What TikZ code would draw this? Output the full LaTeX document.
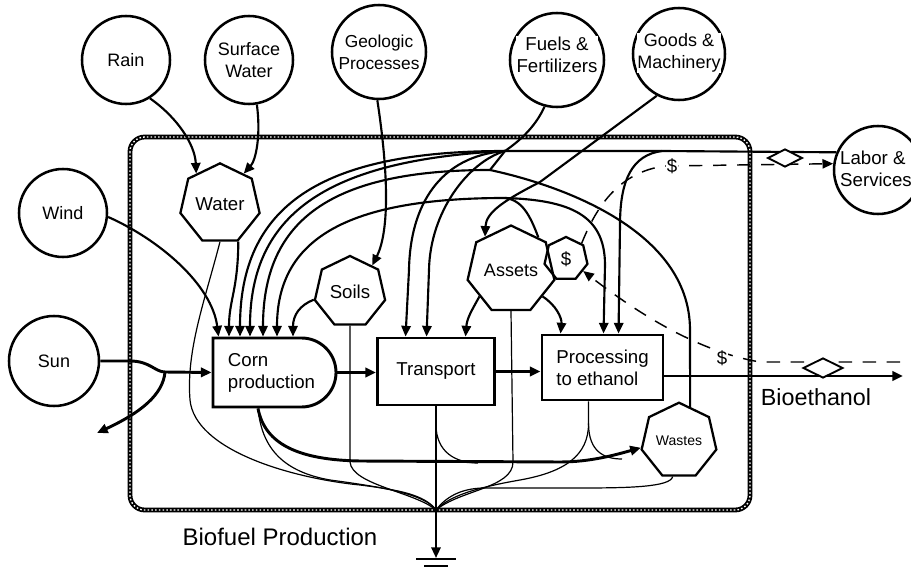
\documentclass[tikz,border=0pt]{standalone}
\usepackage{fontspec}
\setmainfont{Liberation Sans}
\usetikzlibrary{arrows.meta,calc,shapes.geometric,shapes.misc}

\begin{document}
\begin{tikzpicture}[x=0.75pt,y=-0.75pt,
  >={Triangle[length=8pt,width=7pt]},
  source/.style={circle,draw,line width=1.9pt,inner sep=0pt,align=center,
    font=\fontsize{13.5}{16.5}\selectfont},
  tank/.style={regular polygon,regular polygon sides=7,draw,line width=1.7pt,
    inner sep=1pt,font=\fontsize{14}{15}\selectfont},
  unit/.style={draw,line width=2.2pt,align=left,inner sep=0pt,
    font=\fontsize{14}{16.5}\selectfont},
  flow/.style={line width=1.6pt},
  mainflow/.style={line width=2.2pt},
  loss/.style={line width=0.9pt},
  money/.style={line width=1.1pt,dash pattern=on 10pt off 8pt},
  tran/.style={diamond,draw,fill=white,line width=1.4pt,inner sep=0pt},
  mask/.style={fill=white,inner sep=0.5pt,align=center}]
  \useasboundingbox (0,0) rectangle (911,570);

  % Límite del sistema
  \draw[line width=3.6pt,rounded corners=11pt] (130,137) rectangle (750,510);
  \draw[white,line width=1pt,dash pattern=on 1.2pt off 1.6pt,rounded corners=11pt]
    (130,137) rectangle (750,510);

  % Fuentes externas
  \node[source,minimum size=66pt] (rain) at (126,60) {Rain};
  \node[source,minimum size=66pt] (surf) at (249,60) {Surface\\Water};
  \node[source,minimum size=70.5pt,font=\fontsize{13}{16.5}\selectfont] (geo) at (379,52) {Geologic\\Processes};
  \node[source,minimum size=70.5pt] (fuel) at (557,60) {};
  \node[mask,font=\fontsize{14}{16.5}\selectfont] (fueltxt) at (557,55) {Fuels \&\\Fertilizers};
  \node[source,minimum size=69pt] (goods) at (679,54) {};
  \node[mask,font=\fontsize{13.5}{16.5}\selectfont] (goodstxt) at (679,53) {Goods \&\\Machinery};
  \node[source,minimum size=66pt] (labor) at (878,170) {};
  \node[mask,align=left,font=\fontsize{14}{16.5}\selectfont] (labortxt) at (876,169) {Labor \&\\Services};
  \node[source,minimum size=66pt] (wind) at (63,213) {Wind};
  \node[source,minimum size=67.5pt] (sun) at (54,361) {Sun};

  % Almacenes
  \node[tank,minimum size=54pt] (water) at (220,204) {Water};
  \node[tank,minimum size=54pt] (soils) at (350,292) {Soils};
  \node[tank,minimum size=55.5pt,font=\fontsize{13.5}{15}\selectfont] (assets) at (511,270) {Assets};
  \node[tank,minimum size=33pt] (dollar) at (566,259) {\$};
  \node[tank,minimum size=46.5pt,font=\fontsize{10.5}{12}\selectfont] (wastes) at (679,441) {Wastes};

  % Procesos
  \node[unit,rounded rectangle,rounded rectangle left arc=none,
    minimum width=92.25pt,minimum height=51.75pt] (corn) at (271.5,372.5) {Corn\\production};
  \node[unit,minimum width=87.75pt,minimum height=50.25pt] (transport) at (436,371.5) {Transport};
  \node[unit,minimum width=90.75pt,minimum height=48.75pt] (proc) at (602.5,367.5) {Processing\\to ethanol};

  % Puntos de unión
  \coordinate (hub) at (505,151);
  \coordinate (jF) at (490,170);
  \coordinate (jA) at (505,198);
  \coordinate (lj) at (662,151);
  \coordinate (sj) at (165,372);
  \coordinate (sink) at (436,510);
  \coordinate (gnd) at (436,558);
  \coordinate (refl) at (97,433);
  \coordinate (bio) at (903,376);
  \coordinate (cash) at (900,362);

  % Entradas al agua y a los suelos
  \draw[flow,->] (rain.-58) .. controls (178,118) and (195,145) .. (water.128);
  \draw[flow,->] (surf.-80) .. controls (261,135) and (256,160) .. (water.52);
  \draw[flow,->] (geo.-92) .. controls (388,170) and (390,230) .. (soils.50);

  % Entradas a la producción de maíz
  \draw[flow,->] (wind.-5) .. controls (160,240) and (212,285) .. ($(corn.north)+(-53,0)$);
  \draw[flow,->] (water.-64) .. controls (238,290) and (229,300) .. ($(corn.north)+(-42.5,0)$);
  \draw[flow,->] (hub) .. controls (319,151) and (240,207) .. ($(corn.north)+(-31.5,0)$);
  \draw[flow,->] (hub) .. controls (330,160) and (250,212) .. ($(corn.north)+(-21.5,0)$);
  \draw[flow,->] (jF) .. controls (331,170) and (263,220) .. ($(corn.north)+(-8.5,0)$);
  \draw[flow,->] (jA) .. controls (345,198) and (277,240) .. ($(corn.north)+(5.5,0)$);
  \draw[flow,->] (soils.192) .. controls (300,305) and (293,315) .. ($(corn.north)+(21.5,0)$);

  % Cadena principal
  \draw[mainflow] (sun.east) -- (130,361) .. controls (150,361) and (155,372) .. (sj);
  \draw[mainflow,->] (sj) -- (corn.west);
  \draw[mainflow,->] (sj) .. controls (163,395) and (140,413) .. (refl);
  \draw[mainflow,->] (corn.east) -- (corn.east -| transport.west);
  \draw[mainflow,->] (transport.east) -- (transport.east -| proc.west);
  \draw[mainflow,->] (proc.east |- bio) -- (bio);

  % Entradas al transporte y al procesamiento
  \draw[flow,->] (hub) .. controls (440,156) and (410,205) .. (409,270)
    -- ($(transport.north west)+(29.5,0)$);
  \draw[flow,->] (hub) .. controls (468,162) and (430,212) .. (429,270)
    -- ($(transport.north west)+(50.5,0)$);
  \draw[flow,->] (assets.-140) .. controls (472,310) and (467,318) .. ($(transport.north west)+(89.5,0)$);
  \draw[flow,->] (assets.-40) .. controls (556,305) and (562,318) .. ($(proc.north west)+(20,0)$);
  \draw[flow,->] (jA) .. controls (570,200) and (605,215) .. (605,265) -- ($(proc.north west)+(63,0)$);
  \draw[flow,->] (lj) .. controls (632,155) and (620,180) .. (620,225) -- ($(proc.north west)+(78,0)$);

  % Insumos comprados
  \draw[flow] (fuel.-105) .. controls (535,128) and (518,142) .. (hub) -- (jF);
  \draw[flow,->] (goods.-118) -- (540,182) .. controls (505,200) and (486,212) .. (assets.128);
  \draw[flow] (labor.157) -- (lj) -- (hub);
  \draw[flow] (assets.50) .. controls (530,215) and (522,200) .. (jA);
  \draw[flow] (jF) .. controls (560,185) and (690,230) .. (690,330) -- (wastes.72);

  % Residuos
  \draw[mainflow,->] ($(corn.south)+(-13.5,0)$) .. controls (265,445) and (300,460) .. (360,461)
    -- (560,462) .. controls (590,462) and (615,455) .. (wastes.190);
  \draw[loss] (transport.south) ++(0,18) coordinate (tb) .. controls +(0,28) and +(-22,0) .. (478,463);

  % Sumidero de calor
  \draw[loss] (water.-90) .. controls (205,300) and (186,350) .. (190,400)
    .. controls (195,450) and (290,478) .. (360,485) .. controls (400,490) and (425,495) .. (sink);
  \draw[loss] ($(corn.south)+(-13.5,0)$) .. controls (262,450) and (285,472) .. (330,480)
    .. controls (390,488) and (425,495) .. (sink);
  \draw[loss] (soils.south) -- (350,462) .. controls (352,485) and (415,492) .. (sink);
  \draw[loss] (transport.south) -- (sink);
  \draw[loss] (assets.south) -- (513,462) .. controls (513,488) and (460,490) .. (sink);
  \draw[loss] (wastes.-100) .. controls (670,487) and (630,488) .. (580,488) -- (485,488)
    .. controls (460,488) and (445,498) .. (sink);
  \draw[loss] ($(proc.south west)+(48,0)$) -- ++(0,22) coordinate (pb)
    .. controls +(0,28) and +(-18,0) .. (622,459);
  \draw[loss] (pb) .. controls +(0,32) and +(45,-8) .. (520,480)
    .. controls (480,487) and (450,495) .. (sink);
  \draw[flow,->] (sink) -- (gnd);
  \draw[flow] (416,559) -- (456,559);
  \draw[flow] (424,566) -- (448,566);

  % Flujos de dinero
  \draw[money,->] (dollar.45) .. controls (597,205) and (620,172) .. (665,166) -- (labor.172);
  \draw[money,->] (cash) -- (760,362) .. controls (700,352) and (640,315) .. (dollar.-35);
  \node[fill=white,inner sep=0.5pt,font=\fontsize{14}{15}\selectfont] (m1) at (672,166) {\$};
  \node[fill=white,inner sep=0.5pt,font=\fontsize{14}{15}\selectfont] (m2) at (722,358) {\$};

  % Transacciones
  \node[tran,minimum width=26pt,minimum height=13.5pt] (t1) at (785,158) {};
  \node[tran,minimum width=30pt,minimum height=15pt] (t2) at (823,368) {};

  % Rótulos
  \node[font=\fontsize{18}{20}\selectfont] (blabel) at (280,537) {Biofuel Production};
  \node[font=\fontsize{17.5}{20}\selectfont] (elabel) at (816,397) {Bioethanol};
\end{tikzpicture}
\end{document}
